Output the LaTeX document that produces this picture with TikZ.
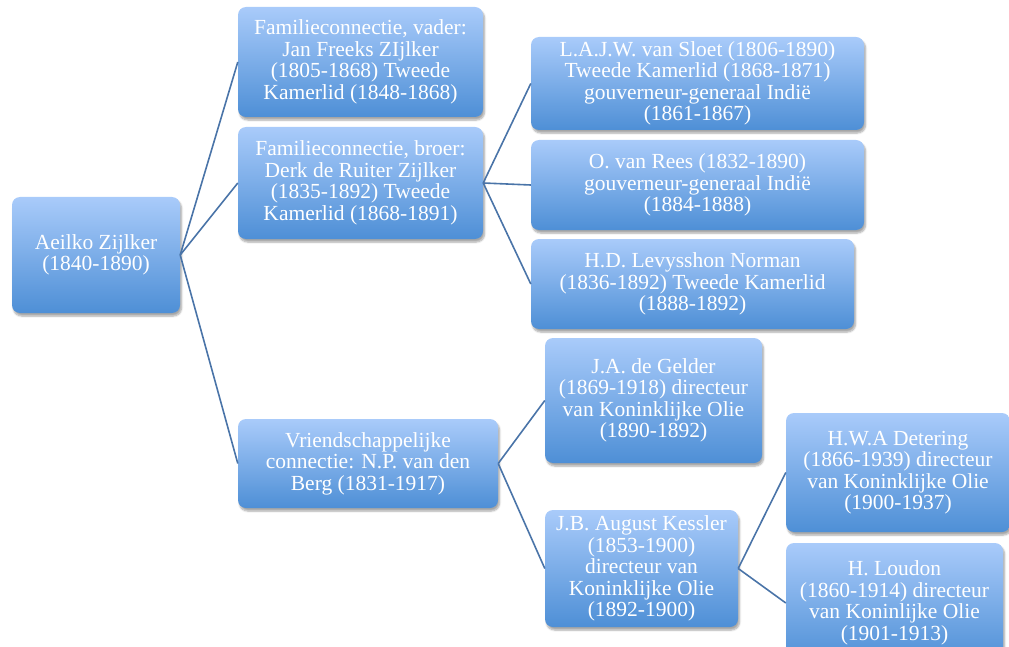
\documentclass[tikz,border=0pt]{standalone}
\usepackage{fontspec}
\setmainfont{Liberation Serif}
\usetikzlibrary{shadows.blur}
\definecolor{boxtop}{HTML}{A9CBFA}
\definecolor{boxbot}{HTML}{4E8FD6}
\definecolor{linkblue}{HTML}{4A74A8}
\begin{document}
\begin{tikzpicture}[x=1pt, y=-1pt,
	person/.style={rectangle, rounded corners=8pt, top color=boxtop, bottom color=boxbot,
		text=white, align=center, inner sep=0pt, font=\fontsize{21.5}{21.5}\selectfont,
		blur shadow={shadow xshift=1.5pt, shadow yshift=-3pt, shadow blur steps=6, shadow opacity=35}},
	link/.style={linkblue, line width=1.6pt}]
	\useasboundingbox (0,0) rectangle (1009,647);

	%root
	\node[person, minimum width=168pt, minimum height=116pt] (aeilko) at (96,255)
		{Aeilko Zijlker\\(1840-1890)};

	%first level
	\node[person, minimum width=245pt, minimum height=110pt] (vader) at (360.5,62)
		{Familieconnectie, vader:\\Jan Freeks ZIjlker\\(1805-1868) Tweede\\Kamerlid (1848-1868)};
	\node[person, minimum width=245pt, minimum height=112pt] (broer) at (360.5,183)
		{Familieconnectie, broer:\\Derk de Ruiter Zijlker\\(1835-1892) Tweede\\Kamerlid (1868-1891)};
	\node[person, minimum width=260pt, minimum height=89pt] (vdberg) at (368,463.5)
		{Vriendschappelijke\\connectie: N.P. van den\\Berg (1831-1917)};

	%via broer
	\node[person, minimum width=333pt, minimum height=93pt] (sloet) at (697.5,83.5)
		{L.A.J.W. van Sloet (1806-1890)\\Tweede Kamerlid (1868-1871)\\gouverneur-generaal Indië\\(1861-1867)};
	\node[person, minimum width=333pt, minimum height=90pt] (rees) at (697.5,185)
		{O. van Rees (1832-1890)\\gouverneur-generaal Indië\\(1884-1888)};
	\node[person, minimum width=323pt, minimum height=90pt] (norman) at (692.5,284)
		{H.D. Levysshon Norman\\(1836-1892) Tweede Kamerlid\\(1888-1892)};

	%via van den Berg
	\node[person, minimum width=217pt, minimum height=125pt] (gelder) at (653.5,400.5)
		{J.A. de Gelder\\(1869-1918) directeur\\van Koninklijke Olie\\(1890-1892)};
	\node[person, minimum width=193pt, minimum height=117pt] (kessler) at (641.5,568.5)
		{J.B. August Kessler\\(1853-1900)\\directeur van\\Koninklijke Olie\\(1892-1900)};

	%via Kessler
	\node[person, minimum width=224pt, minimum height=119pt] (detering) at (898,472.5)
		{H.W.A Detering\\(1866-1939) directeur\\van Koninklijke Olie\\(1900-1937)};
	\node[person, minimum width=217pt, minimum height=120pt] (loudon) at (894.5,603)
		{H. Loudon\\(1860-1914) directeur\\van Koninlijke Olie\\(1901-1913)};

	%connectors
	\foreach \b in {vader, broer, vdberg}{
		\draw[link] (aeilko.east) -- (\b.west);
	}
	\foreach \c in {sloet, rees, norman}{
		\draw[link] (broer.east) -- (\c.west);
	}
	\foreach \d in {gelder, kessler}{
		\draw[link] (vdberg.east) -- (\d.west);
	}
	\foreach \e in {detering, loudon}{
		\draw[link] (kessler.east) -- (\e.west);
	}
\end{tikzpicture}
\end{document}
